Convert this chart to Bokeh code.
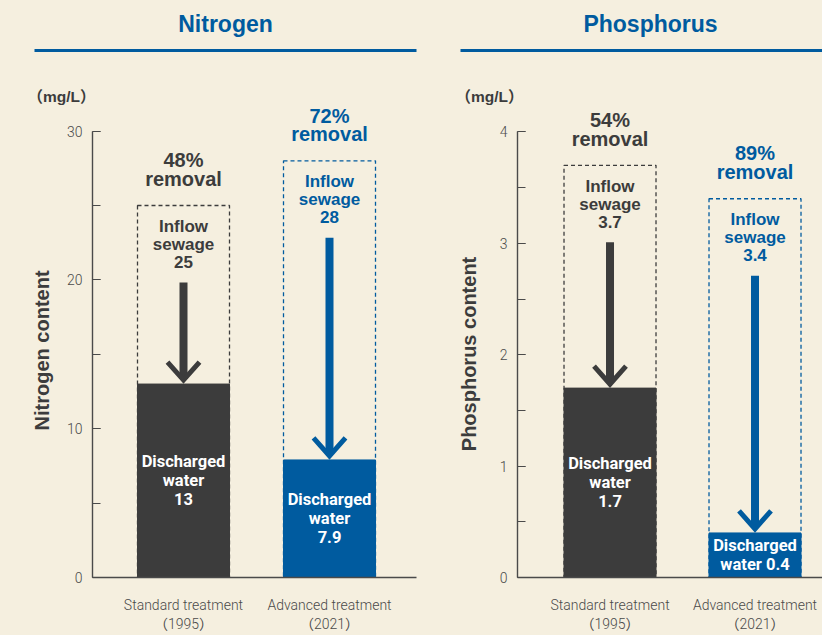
import math
from bokeh.plotting import figure
from bokeh.layouts import column, row
from bokeh.models import Range1d, SingleIntervalTicker, FixedTicker
from bokeh.core.properties import value
from bokeh.embed import file_html
from bokeh.resources import INLINE

# ---------------- data ----------------
categories = ["Standard treatment\n（1995）", "Advanced treatment\n（2021）"]
panel_titles = ["Nitrogen", "Phosphorus"]
axis_titles = ["Nitrogen content", "Phosphorus content"]
unit_label = "（mg/L）"

nitrogen_inflow = [25, 28]
nitrogen_discharged = [13, 7.9]
nitrogen_removal = ["48%", "72%"]
nitrogen_axis_max = 30
nitrogen_tick_interval = 10

phosphorus_inflow = [3.7, 3.4]
phosphorus_discharged = [1.7, 0.4]
phosphorus_removal = ["54%", "89%"]
phosphorus_axis_max = 4
phosphorus_tick_interval = 1

nitrogen_discharged_fmt = ["Discharged\nwater\n{}", "Discharged\nwater\n{}"]
phosphorus_discharged_fmt = ["Discharged\nwater\n{}", "Discharged\nwater {}"]

# ---------------- style ----------------
BG = "#f5efdf"
DARK = "#3c3c3c"
BLUE = "#005b9f"
AXIS = "#4a4a4a"
SANS = "Liberation Sans, Noto Sans CJK JP"
NARROW = "Roboto, Liberation Sans"
LIGHT = "Roboto Light, Roboto, Noto Sans CJK JP"
series_colors = [DARK, BLUE]
positions = [1, 2]

TOTAL_W = 822
TOTAL_H = 635
HDR_H = 105
CHART_H = TOTAL_H - HDR_H
BOTTOM = 58


def blank(width, height, x0, x1, y0, y1):
    f = figure(width=width, height=height, x_range=Range1d(x0, x1), y_range=Range1d(y0, y1),
               output_backend="svg", toolbar_location=None, min_border=0,
               x_axis_location=None, y_axis_location=None)
    f.background_fill_color = BG
    f.border_fill_color = BG
    f.outline_line_color = None
    f.grid.visible = False
    return f


def chart(width, border_left, border_right, x_start, unit_px, ppu, axis_max, interval,
          inflow, discharged, removal, dis_fmt):
    frame_h = CHART_H - BOTTOM
    frame_w = width - border_left - border_right
    p = figure(width=width, height=CHART_H,
               x_range=Range1d(x_start, x_start + frame_w / unit_px),
               y_range=Range1d(0, frame_h / ppu),
               output_backend="svg", toolbar_location=None,
               min_border_left=border_left, min_border_right=border_right,
               min_border_top=0, min_border_bottom=BOTTOM)
    p.background_fill_color = BG
    p.border_fill_color = BG
    p.outline_line_color = None
    p.grid.visible = False

    bar_w = 92 / unit_px
    # dashed inflow boxes
    p.quad(left=[c - bar_w / 2 for c in positions], right=[c + bar_w / 2 for c in positions],
           bottom=[0, 0], top=inflow, fill_color=None, line_color=series_colors,
           line_dash="4 3", line_width=1.3)
    # discharged bars
    p.vbar(x=positions, top=discharged, width=bar_w, color=series_colors)

    # arrows
    shaft_top = [v - 77 / ppu for v in inflow]
    shaft_bot = [d + 6 / ppu for d in discharged]
    p.segment(x0=positions, y0=shaft_top, x1=positions, y1=shaft_bot,
              line_width=8, line_color=series_colors, line_cap="butt")
    dx = 16 / unit_px
    xs = [[c - dx, c, c + dx] for c in positions]
    ys = [[d + 22 / ppu, d + 4 / ppu, d + 22 / ppu] for d in discharged]
    p.multi_line(xs=xs, ys=ys, line_width=5, line_color=series_colors, line_join="miter")

    # texts
    p.text(x=positions, y=inflow, text=[f"{r}\nremoval" for r in removal],
           y_offset=-36, text_align="center", text_baseline="middle",
           text_font=value(SANS), text_font_style="bold", text_font_size="20px",
           text_line_height=0.85, text_color=series_colors)
    p.text(x=positions, y=inflow, text=[f"Inflow\nsewage\n{v}" for v in inflow],
           y_offset=39, text_align="center", text_baseline="middle",
           text_font=value(SANS), text_font_style="bold", text_font_size="17px",
           text_line_height=0.95, text_color=series_colors)
    p.text(x=positions, y=[d / 2 for d in discharged],
           text=[f.format(d) for f, d in zip(dis_fmt, discharged)],
           text_align="center", text_baseline="middle",
           text_font=value(NARROW), text_font_style="bold", text_font_size="16.5px",
           text_line_height=1.0, text_color="white")

    # y axis
    ya = p.yaxis[0]
    ya.ticker = SingleIntervalTicker(interval=interval, num_minor_ticks=2)
    ya.bounds = (0, axis_max)
    ya.major_tick_in = 8
    ya.major_tick_out = 0
    ya.minor_tick_in = 8
    ya.minor_tick_out = 0
    ya.major_tick_line_color = AXIS
    ya.minor_tick_line_color = AXIS
    ya.axis_line_color = AXIS
    ya.axis_line_width = 1.4
    ya.major_tick_line_width = 1.2
    ya.minor_tick_line_width = 1.2
    ya.major_label_standoff = 10
    ya.major_label_text_font = LIGHT
    ya.major_label_text_font_size = "14px"
    ya.major_label_text_color = AXIS

    # x axis
    xa = p.xaxis[0]
    xa.ticker = FixedTicker(ticks=positions)
    xa.major_label_overrides = {positions[0]: categories[0], positions[1]: categories[1]}
    xa.major_tick_in = 0
    xa.major_tick_out = 0
    xa.axis_line_color = AXIS
    xa.axis_line_width = 1.5
    xa.major_label_standoff = 19
    xa.major_label_text_font = LIGHT
    xa.major_label_text_font_size = "14px"
    xa.major_label_text_color = AXIS
    return p


# header with titles, rules and units
hdr = blank(TOTAL_W, HDR_H, 0, TOTAL_W, HDR_H, 0)
hdr.text(x=[225, 650], y=[23, 23], text=panel_titles, text_align="center",
         text_baseline="middle", text_font=value(SANS), text_font_style="bold",
         text_font_size="23px", text_color=BLUE)
hdr.segment(x0=[34, 460], y0=[50, 50], x1=[416, 822], y1=[50, 50],
            line_color=BLUE, line_width=3)
hdr.text(x=[27, 455], y=[96, 96], text=[unit_label, unit_label], text_align="left",
         text_baseline="middle", text_font=value(SANS), text_font_style="bold",
         text_font_size="15.5px", text_color=DARK)

# y-axis titles (rotated, reading upwards), centred on the value axes
LAB1_W, LAB2_W = 55, 47
lab1 = blank(LAB1_W, CHART_H, 0, LAB1_W, TOTAL_H, HDR_H)
lab1.text(x=[41], y=[380], text=[axis_titles[0]], angle=math.pi / 2,
          text_align="center", text_baseline="middle", text_font=value(SANS),
          text_font_style="bold", text_font_size="20px", text_color=DARK)
lab2 = blank(LAB2_W, CHART_H, 0, LAB2_W, TOTAL_H, HDR_H)
lab2.text(x=[30], y=[384], text=[axis_titles[1]], angle=math.pi / 2,
          text_align="center", text_baseline="middle", text_font=value(SANS),
          text_font_style="bold", text_font_size="20px", text_color=DARK)

left = chart(438 - LAB1_W, 92 - LAB1_W, 22, 0.3767, 146, 14.88, nitrogen_axis_max,
             nitrogen_tick_interval, nitrogen_inflow, nitrogen_discharged,
             nitrogen_removal, nitrogen_discharged_fmt)
right = chart(384 - LAB2_W, 517 - 438 - LAB2_W, 0, 0.362, 145, 111.4, phosphorus_axis_max,
              phosphorus_tick_interval, phosphorus_inflow, phosphorus_discharged,
              phosphorus_removal, phosphorus_discharged_fmt)

charts = row(lab1, left, lab2, right, styles={"background-color": BG})
layout = column(hdr, charts, styles={"background-color": BG})
open("out.html", "w").write(file_html(layout, INLINE))
